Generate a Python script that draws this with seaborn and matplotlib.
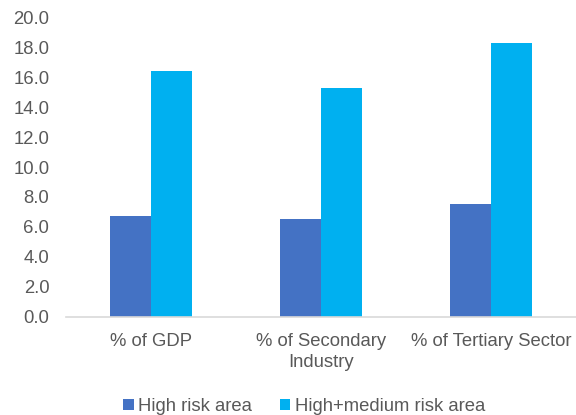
import matplotlib
matplotlib.use("Agg")
import matplotlib.pyplot as plt
import seaborn as sns
import pandas as pd
from matplotlib.patches import Patch

categories = ["% of GDP", "% of Secondary\nIndustry", "% of Tertiary Sector"]
series_names = ["High risk area", "High+medium risk area"]
high_risk = [6.7, 6.5, 7.5]
high_medium_risk = [16.4, 15.3, 18.3]
colors = ["#4472C4", "#00B0F0"]
yticks = [0, 2, 4, 6, 8, 10, 12, 14, 16, 18, 20]

df = pd.DataFrame({
    "category": categories * 2,
    "series": [series_names[0]] * 3 + [series_names[1]] * 3,
    "value": high_risk + high_medium_risk,
})

sns.set_theme(style="white")
plt.rcParams["font.family"] = ["Liberation Sans", "DejaVu Sans"]

fs = 13.3
fig = plt.figure(figsize=(5.76, 4.15), dpi=100)
ax = fig.add_axes([0.1146, 0.237, 0.885, 0.721])

sns.barplot(data=df, x="category", y="value", hue="series", order=categories,
            hue_order=series_names, palette=colors, width=0.48, gap=0,
            linewidth=0, saturation=1, ax=ax, legend=False)

ax.set_ylim(0, 20)
ax.set_xlim(-0.5, 2.5)
ax.set_yticks(yticks)
ax.set_yticklabels([f"{v:.1f}" for v in yticks])
ax.set_xlabel("")
ax.set_ylabel("")
for s in ["top", "right", "left"]:
    ax.spines[s].set_visible(False)
ax.spines["bottom"].set_color("#D9D9D9")
ax.spines["bottom"].set_linewidth(1.2)
ax.tick_params(axis="both", length=0, labelsize=fs, colors="#595959")
ax.tick_params(axis="y", pad=12)
ax.tick_params(axis="x", pad=12)
for lbl in ax.get_xticklabels():
    lbl.set_linespacing(1.25)

handles = [Patch(facecolor=c, edgecolor="none") for c in colors]
fig.legend(handles, series_names, loc="center", bbox_to_anchor=(0.528, 0.02),
           ncol=2, frameon=False, fontsize=fs, handlelength=0.55,
           handleheight=0.55, handletextpad=0.25, columnspacing=1.5,
           labelcolor="#595959")

fig.savefig("out.png", dpi=100)
